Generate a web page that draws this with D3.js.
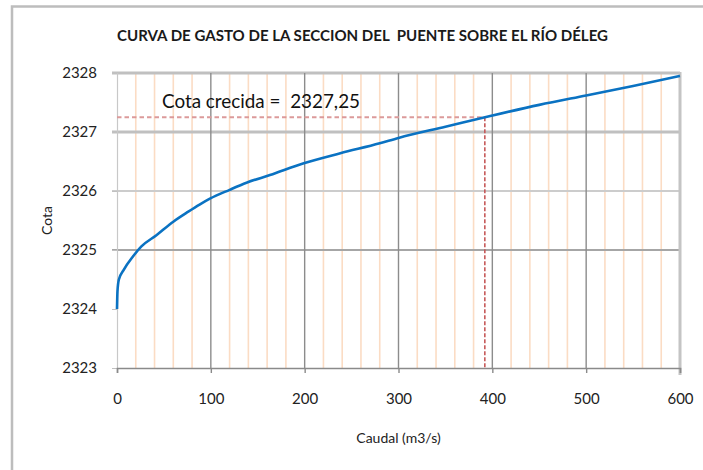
<!DOCTYPE html>
<html>
<head>
<meta charset="utf-8">
<script src="https://cdn.jsdelivr.net/npm/d3@7"></script>
<style>
  body{margin:0;background:#fff;}
  svg{display:block;font-family:Lato, "Open Sans", sans-serif;}
</style>
</head>
<body>
<div id="chart"></div>
<script>
// caudal (m3/s) vs cota
const caudal = [0, 0.5, 2, 7, 17, 26, 42, 60, 76, 88, 99, 120, 138, 163, 199, 238, 280, 300, 350, 400, 450, 500, 550, 600];
const cota = [2324.0, 2324.3, 2324.5, 2324.66, 2324.89, 2325.06, 2325.25, 2325.48, 2325.65, 2325.77, 2325.87, 2326.02, 2326.14, 2326.27, 2326.47, 2326.64, 2326.81, 2326.9, 2327.09, 2327.28, 2327.46, 2327.62, 2327.78, 2327.95];

const xTicks = [0, 100, 200, 300, 400, 500, 600];
const xMinorTicks = [20, 40, 60, 80, 120, 140, 160, 180, 220, 240, 260, 280, 320, 340, 360, 380, 420, 440, 460, 480, 520, 540, 560, 580];
const yTicks = [2323, 2324, 2325, 2326, 2327, 2328];
const yGrid = [2325, 2326, 2327, 2328];

const cotaCrecida = 2327.25;
const caudalCrecida = 392;

const title = "CURVA DE GASTO DE LA SECCION DEL  PUENTE SOBRE EL RÍO DÉLEG";
const xTitle = "Caudal (m3/s)";
const yTitle = "Cota";
const crecidaLabel = "Cota crecida =  2327,25";

const width = 703, height = 470;
const plotLeft = 117, plotRight = 680, plotTop = 73, plotBottom = 368;

const svg = d3.select("#chart").append("svg").attr("width", width).attr("height", height);

const x = d3.scaleLinear().domain([0, 600]).range([plotLeft, plotRight]);
const y = d3.scaleLinear().domain([2323, 2328]).range([plotBottom, plotTop]);

// outer frame of the pasted chart
svg.append("rect").attr("x", 12).attr("y", 6.5).attr("width", 900).attr("height", 700)
  .attr("fill", "none").attr("stroke", "#bdbdbd").attr("stroke-width", 2.5);

const lineAttr = (sel, stroke, w) => sel.attr("stroke", stroke).attr("stroke-width", w).attr("fill", "none");

// minor vertical grid (orange)
svg.append("g").selectAll("line").data(xMinorTicks).enter().append("line")
  .attr("x1", d => x(d)).attr("x2", d => x(d)).attr("y1", plotTop).attr("y2", plotBottom)
  .call(lineAttr, "#fbdcc4", 1.6);

// horizontal grid
const hStyle = {2325: ["#a6a6a6", 2.2], 2326: ["#cccccc", 2], 2327: ["#c0c0c0", 3], 2328: ["#c0c0c0", 3]};
svg.append("g").selectAll("line").data(yGrid).enter().append("line")
  .attr("x1", plotLeft - 5).attr("x2", plotRight).attr("y1", d => y(d)).attr("y2", d => y(d))
  .each(function(d){ d3.select(this).call(lineAttr, hStyle[d][0], hStyle[d][1]); });

// major vertical grid
svg.append("g").selectAll("line").data(xTicks.filter(d => d > 0 && d < 600)).enter().append("line")
  .attr("x1", d => x(d)).attr("x2", d => x(d)).attr("y1", plotTop).attr("y2", plotBottom)
  .call(lineAttr, "#8c8c8c", 1.4);
svg.append("line").attr("x1", x(600)).attr("x2", x(600)).attr("y1", plotTop - 1).attr("y2", plotBottom + 7)
  .call(lineAttr, "#c4c4c4", 3);

// axes
const yAxis = svg.append("g").attr("transform", `translate(${plotLeft},0)`)
  .call(d3.axisLeft(y).tickValues(yTicks).tickSize(5).tickPadding(15).tickFormat(d3.format("d")));
yAxis.select(".domain").attr("stroke", "#c8c8c8").attr("stroke-width", 1.2);
yAxis.selectAll(".tick line").attr("stroke", "#c0c0c0");

const xAxis = svg.append("g").attr("transform", `translate(0,${plotBottom})`)
  .call(d3.axisBottom(x).tickValues(xTicks).tickSize(5).tickPadding(20).tickFormat(d3.format("d")));
xAxis.select(".domain").attr("stroke", "#8a8a8a").attr("stroke-width", 1.5);
xAxis.selectAll(".tick line").attr("stroke", "#8a8a8a").attr("stroke-width", 1.4);

svg.selectAll(".tick text").attr("font-family", "Lato, sans-serif").attr("font-size", 15).attr("fill", "#222");

// crecida reference lines
svg.append("line").attr("x1", x(0)).attr("x2", x(caudalCrecida)).attr("y1", y(cotaCrecida)).attr("y2", y(cotaCrecida))
  .call(lineAttr, "#dc9a9a", 2).attr("stroke-dasharray", "4.5,3");
svg.append("line").attr("x1", x(caudalCrecida)).attr("x2", x(caudalCrecida)).attr("y1", y(cotaCrecida)).attr("y2", plotBottom)
  .call(lineAttr, "#c65a5a", 1.6).attr("stroke-dasharray", "4,2");

// rating curve
const pts = caudal.map((q, i) => [q, cota[i]]);
svg.append("path").datum(pts)
  .attr("d", d3.line().x(d => x(d[0])).y(d => y(d[1])).curve(d3.curveMonotoneX))
  .call(lineAttr, "#0a72c2", 2.6).attr("stroke-linejoin", "round");

// texts
svg.append("text").attr("x", 117).attr("y", 41).text(title)
  .attr("font-size", 15).attr("font-weight", "bold").attr("fill", "#1a1a1a")
  .attr("textLength", 491).attr("lengthAdjust", "spacingAndGlyphs").style("white-space", "pre");

svg.append("text").attr("x", 162).attr("y", 107.5).text(crecidaLabel)
  .attr("font-size", 19).attr("fill", "#111")
  .attr("textLength", 198).attr("lengthAdjust", "spacingAndGlyphs").style("white-space", "pre");

svg.append("text").attr("x", (plotLeft + plotRight) / 2).attr("y", 443).attr("text-anchor", "middle")
  .text(xTitle).attr("font-size", 14).attr("fill", "#222");

svg.append("text").attr("transform", `translate(52,${(plotTop + plotBottom) / 2}) rotate(-90)`)
  .attr("text-anchor", "middle").text(yTitle).attr("font-size", 14).attr("fill", "#222");
</script>
</body>
</html>
